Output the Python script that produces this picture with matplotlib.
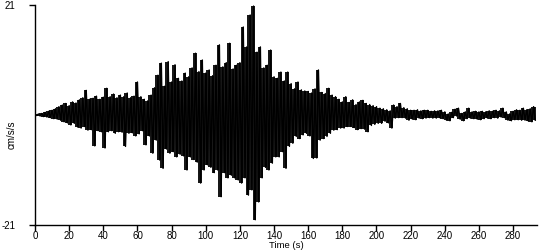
import numpy as np
import matplotlib
matplotlib.use("Agg")
import matplotlib.pyplot as plt

# peak values (cm/s/s)
# positive peaks at t = 0, 2, 4, ... 292 s
up_peaks = [0.0, 0.2, 0.3, 0.5, 0.7, 0.9, 1.2, 1.6, 1.9, 2.2,
            1.8, 2.5, 2.3, 2.9, 3.3, 4.7, 3.0, 3.2, 3.6, 3.0,
            3.4, 5.1, 3.5, 4.0, 3.3, 3.8, 3.5, 4.2, 3.3, 3.6,
            6.3, 3.5, 3.0, 2.7, 3.8, 5.2, 7.6, 9.9, 5.5, 10.2,
            6.3, 9.6, 7.0, 6.5, 8.0, 7.3, 9.0, 11.8, 8.3, 10.5,
            8.0, 8.6, 7.5, 9.5, 13.4, 9.2, 10.0, 13.7, 8.8, 9.5,
            10.0, 16.8, 13.0, 19.1, 20.8, 12.0, 13.0, 9.0, 9.5, 12.4,
            7.3, 7.0, 8.2, 6.5, 8.2, 6.0, 5.0, 6.3, 4.8, 4.6,
            4.5, 4.2, 5.0, 8.6, 4.3, 4.1, 5.1, 3.8, 3.5, 3.0,
            2.5, 3.5, 2.4, 2.9, 2.0, 2.5, 2.8, 2.2, 2.0, 1.8,
            1.6, 1.3, 1.2, 1.0, 0.8, 1.9, 1.6, 2.2, 1.4, 1.2,
            0.9, 0.9, 1.0, 0.8, 0.9, 0.9, 0.7, 0.8, 0.8, 0.9,
            0.6, 0.2, 0.5, 1.1, 1.3, 0.3, 0.6, 1.3, 0.6, 0.7,
            0.6, 0.7, 0.6, 0.8, 0.7, 0.9, 0.8, 1.3, 0.6, 0.2,
            0.7, 1.0, 0.9, 1.3, 1.0, 1.2, 1.6]
# negative peaks at t = 1, 3, 5, ... 293 s
down_peaks = [-0.1, -0.2, -0.3, -0.4, -0.5, -0.7, -0.8, -1.0, -1.3, -1.5,
              -1.9, -1.6, -2.3, -2.5, -2.2, -2.9, -2.8, -5.9, -3.0, -3.2,
              -6.3, -3.2, -3.0, -3.5, -3.2, -3.3, -6.0, -3.5, -3.4, -4.0,
              -3.6, -3.0, -5.7, -4.0, -7.3, -4.8, -8.6, -10.2, -6.5, -7.3,
              -7.0, -8.0, -7.5, -7.8, -10.5, -8.0, -8.5, -9.0, -13.0, -10.5,
              -9.5, -10.0, -11.0, -10.5, -15.6, -11.0, -12.0, -11.5, -12.0, -12.4,
              -13.0, -12.0, -15.3, -14.3, -20.0, -16.6, -12.0, -10.0, -10.5, -9.2,
              -8.0, -8.0, -7.0, -10.2, -6.0, -5.4, -4.1, -4.5, -3.8, -3.5,
              -4.0, -8.3, -8.2, -4.8, -4.5, -4.1, -3.5, -2.9, -2.8, -2.5,
              -2.5, -2.2, -2.2, -2.4, -2.8, -2.6, -2.7, -3.2, -2.0, -1.8,
              -1.6, -1.6, -1.2, -1.5, -2.5, -0.6, -0.5, -0.5, -0.6, -1.0,
              -0.8, -0.9, -0.6, -0.7, -0.6, -0.5, -0.6, -0.6, -0.5, -0.7,
              -1.0, -1.1, -0.5, -0.2, -0.8, -1.1, -0.7, -0.6, -0.7, -0.8,
              -0.9, -0.7, -0.6, -0.7, -0.5, -0.6, -0.4, -0.5, -1.0, -1.1,
              -0.9, -0.9, -1.0, -1.0, -1.2, -1.3, -1.0]
xticks = list(range(0, 281, 20))

up = np.array(up_peaks); dn = np.array(down_peaks)
t_up = np.arange(len(up)) * 2.0
t_dn = t_up + 1.0
t = np.empty(2 * len(up)); a = np.empty(2 * len(up))
t[0::2] = t_up; t[1::2] = t_dn
a[0::2] = up; a[1::2] = dn

plt.rcParams['font.family'] = ['Liberation Sans', 'DejaVu Sans']
fig = plt.figure(figsize=(5.5, 2.5), dpi=100)
ax = fig.add_axes([35/550, 25/250, 502/550, 220/250])
ax.plot(t, a, color='black', lw=1.0)
# solid core of the trace: one stroke per sample pair
ax.vlines(t_up, dn, up, color='black', lw=1.3)
ax.vlines(t_dn, dn, np.r_[up[1:], up[-1]], color='black', lw=1.3)
ax.set_xlim(0, 294); ax.set_ylim(-21, 21)
ax.set_xticks(xticks)
ax.set_yticks([-21, 21]); ax.set_yticklabels(['-21', '21'])
ax.tick_params(labelsize=7, length=4, width=1, direction='out', color='black')
ax.tick_params(axis='y', pad=10)
ax.tick_params(axis='x', pad=0.5)
for s in ['top', 'right']: ax.spines[s].set_visible(False)
for s in ['left', 'bottom']: ax.spines[s].set_linewidth(1)
fig.text(286/550, 0, "Time (s)", fontsize=6.8, ha='center', va='bottom')
fig.text(12/550, 115/250, "cm/s/s", fontsize=7, ha='center', va='center', rotation=90)
fig.savefig("out.png", dpi=100)
